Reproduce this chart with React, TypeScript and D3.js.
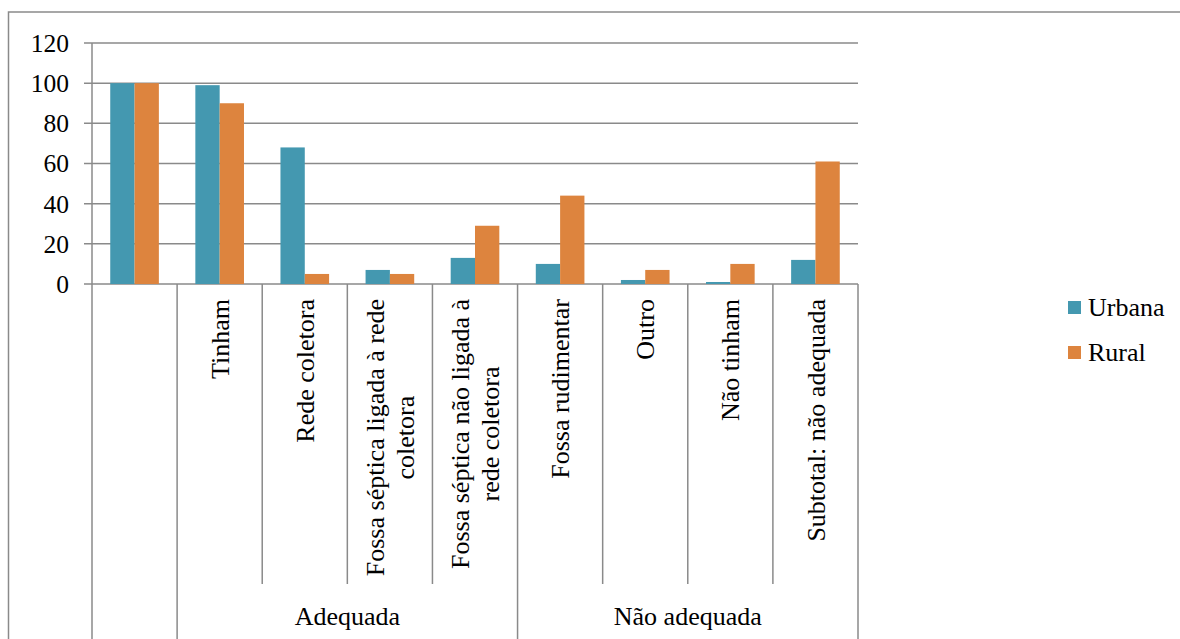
import React from "react";
import * as d3 from "d3";

// Sewage destination by household location (%)
const categories: string[] = [
  "",
  "Tinham",
  "Rede coletora",
  "Fossa séptica ligada à rede\ncoletora",
  "Fossa séptica não ligada à\nrede coletora",
  "Fossa rudimentar",
  "Outro",
  "Não tinham",
  "Subtotal: não adequada",
];
const seriesNames: string[] = ["Urbana", "Rural"];
const urbana: number[] = [100, 99, 68, 7, 13, 10, 2, 1, 12];
const rural: number[] = [100, 90, 5, 5, 29, 44, 7, 10, 61];
const groupLabels: string[] = ["", "Adequada", "Não adequada"];
const groupSizes: number[] = [1, 4, 4];
const yTicks: number[] = [0, 20, 40, 60, 80, 100, 120];

const COLORS = ["#4498b0", "#dd843e"];
const FONT = "'Liberation Serif'";
const GRID = "#8a8a8a";

const W = 1180;
const H = 639;
const LEFT = 92;
const RIGHT = 858;
const TOP = 43;
const BOTTOM = 284;
const INNER_END = 584;
const FS = 26;
const LINE_H = 30;

let measureCtx: CanvasRenderingContext2D | null = null;
function textWidth(s: string, size: number): number {
  if (!measureCtx) measureCtx = document.createElement("canvas").getContext("2d");
  if (!measureCtx) return s.length * size * 0.45;
  measureCtx.font = `${size}px ${FONT}`;
  return measureCtx.measureText(s).width;
}

const textStyle = (size: number): React.CSSProperties => ({ fontFamily: FONT, fontSize: `${size}px` });

export default function App() {
  const keys = categories.map((_, i) => String(i));
  const x = d3.scaleBand<string>().domain(keys).range([LEFT, RIGHT]).padding(0);
  const xs = d3.scaleBand<string>().domain(seriesNames).range([0, x.bandwidth()]).paddingInner(0).paddingOuter(0.75);
  const y = d3.scaleLinear().domain([0, 120]).range([BOTTOM, TOP]);
  const data = [urbana, rural];
  const bx = (i: number) => (i < categories.length ? (x(String(i)) as number) : RIGHT);

  const groupBounds = new Set<number>([0]);
  const groups: { label: string; x0: number; x1: number }[] = [];
  let acc = 0;
  groupSizes.forEach((n, gi) => {
    groups.push({ label: groupLabels[gi], x0: bx(acc), x1: bx(acc + n) });
    acc += n;
    groupBounds.add(acc);
  });

  return (
    <svg width={W} height={H} style={{ position: "absolute", left: 0, top: 0, display: "block", background: "#fff" }}>
      <rect x={8.5} y={12} width={W + 20} height={H + 20} fill="#fff" stroke={GRID} strokeWidth={1.5} />

      {yTicks.map((t) => (
        <g key={t}>
          <line x1={LEFT - 8} x2={RIGHT} y1={y(t)} y2={y(t)} stroke={GRID} strokeWidth={1.5} />
          <text x={69} y={y(t)} dy="0.35em" textAnchor="end" fill="#000" style={textStyle(25.5)}>
            {t}
          </text>
        </g>
      ))}
      <line x1={LEFT} x2={LEFT} y1={TOP} y2={BOTTOM} stroke={GRID} strokeWidth={1.5} />

      {seriesNames.map((s, si) => (
        <g key={s}>
          {data[si].map((v, i) => (
            <rect
              key={i}
              x={(x(String(i)) as number) + (xs(s) as number)}
              y={y(v)}
              width={xs.bandwidth()}
              height={y(0) - y(v)}
              fill={COLORS[si]}
            />
          ))}
        </g>
      ))}

      {d3.range(categories.length + 1).map((i) => (
        <line
          key={i}
          x1={bx(i)}
          x2={bx(i)}
          y1={BOTTOM}
          y2={groupBounds.has(i) ? H : INNER_END}
          stroke={GRID}
          strokeWidth={1.5}
        />
      ))}

      {categories.map((c, i) => {
        if (!c) return null;
        const lines = c.split("\n");
        const maxLen = d3.max(lines, (ln) => textWidth(ln, FS)) || 0;
        const cx = (x(String(i)) as number) + x.bandwidth() / 2;
        return (
          <g key={i} transform={`translate(${cx},299) rotate(-90)`}>
            {lines.map((ln, li) => (
              <text
                key={li}
                x={-maxLen / 2}
                y={(li - (lines.length - 1) / 2) * LINE_H}
                dy="0.35em"
                textAnchor="middle"
                fill="#000"
                style={textStyle(FS)}
              >
                {ln}
              </text>
            ))}
          </g>
        );
      })}

      {groups.map((g, gi) =>
        g.label ? (
          <text key={gi} x={(g.x0 + g.x1) / 2} y={625} textAnchor="middle" fill="#000" style={textStyle(FS)}>
            {g.label}
          </text>
        ) : null
      )}

      {seriesNames.map((s, si) => (
        <g key={s} transform={`translate(1068,${301 + si * 45})`}>
          <rect width={13} height={13} fill={COLORS[si]} />
          <text x={20} y={15} fill="#000" style={textStyle(FS)}>
            {s}
          </text>
        </g>
      ))}
    </svg>
  );
}
